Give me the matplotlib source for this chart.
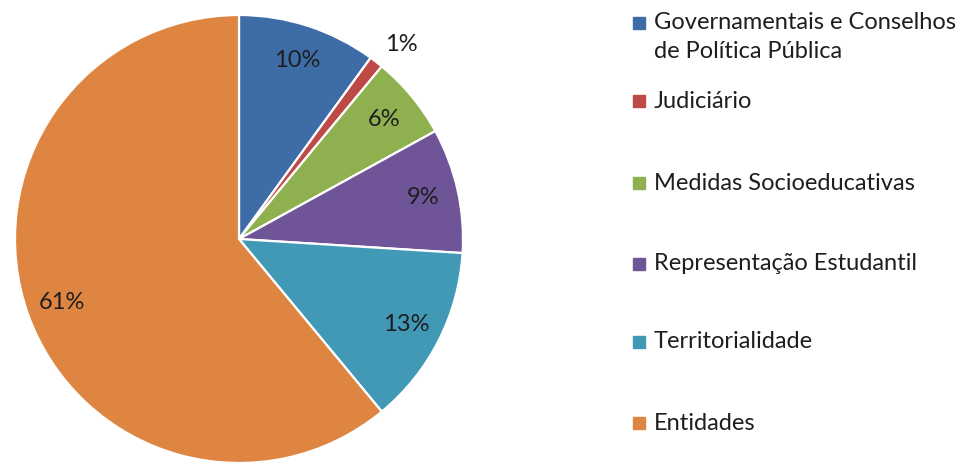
import matplotlib
import numpy as np

matplotlib.use("Agg")
import matplotlib.pyplot as plt
from matplotlib.patches import Rectangle

labels = [
    "Governamentais e Conselhos\nde Política Pública",
    "Judiciário",
    "Medidas Socioeducativas",
    "Representação Estudantil",
    "Territorialidade",
    "Entidades",
]
shares = [10, 1, 6, 9, 13, 61]
colors = ["#3e6ca6", "#bd4a47", "#8eb04f", "#6f5597", "#4299b6", "#de8641"]

# posicoes verticais (px a partir do topo) de cada entrada da legenda
legend_y = [37, 101, 183, 264, 342, 423]

W, H = 971, 463
plt.rcParams["font.family"] = ["Lato", "DejaVu Sans"]
FS = 17

fig = plt.figure(figsize=(W / 100, H / 100), dpi=100)
ax = fig.add_axes([15 / W, 0, 448 / W, 448 / H])

wedges, texts, autotexts = ax.pie(
    shares,
    colors=colors,
    startangle=90,
    counterclock=False,
    autopct="%d%%",
    pctdistance=0.84,
    wedgeprops={"edgecolor": "white", "linewidth": 1.6},
    textprops={"fontsize": FS, "color": "#1e1e1e"},
)
ax.set_xlim(-1, 1)
ax.set_ylim(-1, 1)
ax.set_aspect("equal")

# o rotulo de 1% fica fora da fatia
w = wedges[1]
ang = np.deg2rad((w.theta1 + w.theta2) / 2 - 2)
autotexts[1].set_position((1.13 * np.cos(ang), 1.13 * np.sin(ang)))

for lab, col, y in zip(labels, colors, legend_y):
    yf = 1 - y / H
    fig.text(654 / W, yf, lab, fontsize=FS, va="center", ha="left",
             color="#1e1e1e", linespacing=1.45)
    # primeira entrada tem duas linhas: marcador alinhado com a primeira
    my = 1 - 23 / H if "\n" in lab else yf
    fig.patches.append(Rectangle((633 / W, my - 6 / H), 12 / W, 12 / H,
                                 transform=fig.transFigure, color=col))

fig.savefig("out.png", dpi=100)
